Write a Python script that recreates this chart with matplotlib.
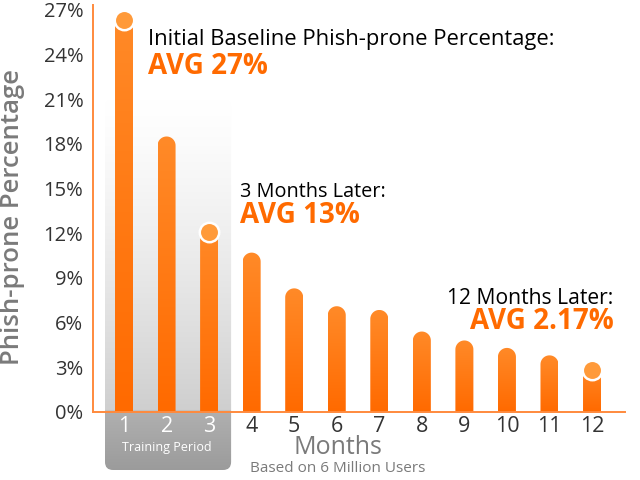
import numpy as np
import matplotlib
matplotlib.use("Agg")
import matplotlib.pyplot as plt
from matplotlib.path import Path
from matplotlib.patches import PathPatch, FancyBboxPatch
from matplotlib.colors import LinearSegmentedColormap

# data
months = np.arange(1, 13)
month_labels = [str(m) for m in months]
rates = [26.9, 18.5, 12.7, 10.7, 8.3, 7.1, 6.85, 5.4, 4.8, 4.3, 3.8, 3.4]   # % (bar tops)
marked = [1, 3, 12]                                                     # months with a dot on top
yticks = [0, 3, 6, 9, 12, 15, 18, 21, 24, 27]

orange_dark = "#ff6a00"
orange_light = "#ff9d40"
orange_text = "#ff6a00"
grey_text = "#7a7a7a"

plt.rcParams['font.family'] = ['Open Sans', 'DejaVu Sans']

fig = plt.figure(figsize=(6.4, 4.8), dpi=100)
ax = fig.add_axes([93/640, 10/480, 532/640, 462/480])
ax.set_xlim(0.271, 12.775)
ax.set_ylim(-3.9, 27.13)

# pixel size of one data unit, used to make round caps look round
p0 = ax.transData.transform((0, 0))
p1 = ax.transData.transform((1, 1))
px_x = p1[0] - p0[0]
px_y = p1[1] - p0[1]

bar_w = 18 / px_x
rx = bar_w / 2
ry = rx * px_x / px_y

# training period shading
grad = np.zeros((200, 1, 4))
y_img = np.linspace(21.0, -3.9, 200)
for i, yy in enumerate(y_img):
    if yy >= 0:
        t = 1 - yy / 21.0
        c = 1.0 - 0.19 * t ** 1.3
        grad[i, 0] = [c, c, c, 1]
    else:
        t = -yy / 3.9
        c = 0.69 - 0.08 * t
        grad[i, 0] = [c, c, c, 1]
box = FancyBboxPatch((0.553, -3.9), 3.517 - 0.553, 21.0 + 3.9,
                     boxstyle="round,pad=0,rounding_size=%f" % (8 / px_x),
                     mutation_aspect=px_x / px_y,
                     transform=ax.transData, facecolor='none', edgecolor='none')
ax.add_patch(box)
im = ax.imshow(grad, extent=(0.553, 3.517, -3.9, 21.0), aspect='auto',
               interpolation='bilinear', zorder=0)
im.set_clip_path(box)

# bars with round tops and a vertical gradient
cmap = LinearSegmentedColormap.from_list("bar", [orange_dark, orange_light])
theta = np.linspace(0, np.pi, 40)
for m, v in zip(months, rates):
    top = v - ry
    verts = [(m - rx, 0), (m + rx, 0), (m + rx, top)]
    verts += [(m + rx * np.cos(a), top + ry * np.sin(a)) for a in theta]
    verts += [(m - rx, 0)]
    codes = [Path.MOVETO] + [Path.LINETO] * (len(verts) - 2) + [Path.CLOSEPOLY]
    clip = PathPatch(Path(verts, codes), transform=ax.transData,
                     facecolor='none', edgecolor='none')
    ax.add_patch(clip)
    g = np.linspace(0, 1, 100).reshape(-1, 1)
    bim = ax.imshow(g, extent=(m - rx, m + rx, 0, v), origin='lower', cmap=cmap,
                    vmin=0, vmax=1.6, aspect='auto', zorder=2)
    bim.set_clip_path(clip)

# dots on key months
for m in marked:
    v = rates[m - 1]
    ax.plot(m, v - ry, 'o', ms=14, mfc="#ff9a3a", mec='white', mew=1.8, zorder=4)

ax.set_xlim(0.271, 12.775)
ax.set_ylim(-3.9, 27.13)

# axes styling
for s in ['top', 'right']:
    ax.spines[s].set_visible(False)
ax.spines['left'].set_bounds(0, 27.3)
ax.spines['bottom'].set_position(('data', 0))
for s in ['left', 'bottom']:
    ax.spines[s].set_color("#ff8a3d")
    ax.spines[s].set_linewidth(1.4)
    ax.spines[s].set_zorder(3)

ax.set_yticks(yticks)
ax.set_yticklabels(["%d%%" % t for t in yticks])
ax.set_xticks(months)
ax.set_xticklabels(month_labels)
ax.tick_params(axis='y', length=0, pad=7, labelsize=14.5, labelcolor="#333333")
ax.tick_params(axis='x', length=0, pad=3, labelsize=15.5, labelcolor="#333333")
for lab in ax.get_xticklabels()[:3]:
    lab.set_color('white')

ax.set_ylabel("Phish-prone Percentage", fontsize=18.5, color=grey_text, fontweight='semibold')
ax.yaxis.set_label_coords(-0.128, 0.548)
fig.text(338/640, 1 - 448/480, "Months", fontsize=18, color=grey_text,
         ha='center', va='center')
fig.text(338/640, 1 - 469/480, "Based on 6 Million Users", fontsize=11,
         color=grey_text, ha='center', va='center')
fig.text(167/640, 1 - 448/480, "Training Period", fontsize=9, color='white',
         ha='center', va='center')

# annotations
ax.text(1.56, 24.65, "Initial Baseline Phish-prone Percentage:", fontsize=15.8, color='black')
ax.text(1.56, 22.7, "AVG 27%", fontsize=20, color=orange_text, fontweight='bold')
ax.text(3.73, 14.45, "3 Months Later:", fontsize=14.3, color='black')
ax.text(3.73, 12.7, "AVG 13%", fontsize=20, color=orange_text, fontweight='bold')
ax.text(12.5, 7.25, "12 Months Later:", fontsize=15.2, color='black', ha='right')
ax.text(12.5, 5.6, "AVG 2.17%", fontsize=20, color=orange_text, fontweight='bold', ha='right')

fig.savefig("out.png", dpi=100)
